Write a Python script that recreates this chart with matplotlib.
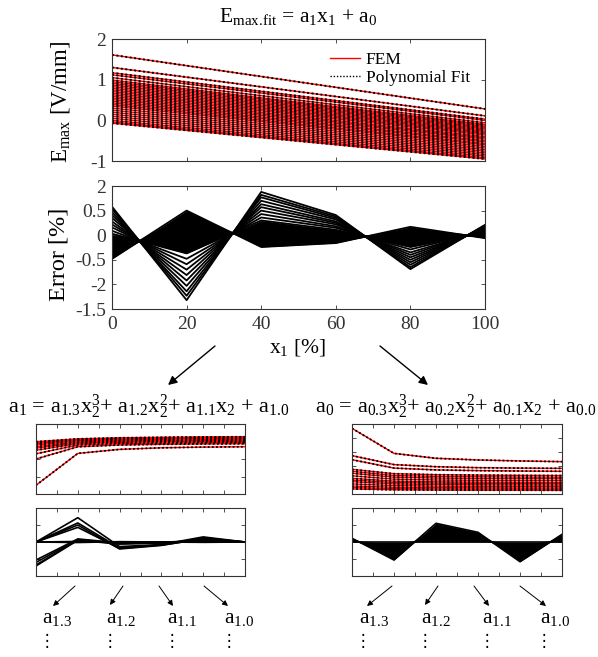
import matplotlib.pyplot as plt
from matplotlib.patches import FancyArrowPatch

plt.rcParams['font.family'] = ['Liberation Serif', 'DejaVu Sans']
plt.rcParams['mathtext.fontset'] = 'custom'
plt.rcParams['mathtext.rm'] = 'Liberation Serif'
plt.rcParams['mathtext.it'] = 'Liberation Serif:italic'
plt.rcParams['axes.unicode_minus'] = False
plt.rcParams['axes.linewidth'] = 0.8
plt.rcParams['axes.edgecolor'] = '0.2'

# --- data ---
x1 = [0, 20, 40, 60, 80, 100]

# E_max fit lines: value at x1 = 0 and x1 = 100
emax_start = [1.61, 1.30, 1.17, 1.12, 1.05, 0.99, 0.95, 0.91, 0.87, 0.83, 0.79,
              0.75, 0.71, 0.67, 0.63, 0.59, 0.55, 0.51, 0.47, 0.43, 0.39, 0.35,
              0.30, 0.25, 0.20, 0.15, 0.10, 0.05, 0.00, -0.04, -0.07]
emax_end = [0.28, 0.11, 0.03, 0.00, -0.06, -0.10, -0.12, -0.15, -0.18, -0.21, -0.24,
            -0.27, -0.30, -0.33, -0.36, -0.40, -0.43, -0.46, -0.50, -0.53, -0.57, -0.60,
            -0.64, -0.68, -0.72, -0.76, -0.80, -0.84, -0.88, -0.92, -0.95]

# error profiles at x1 (dense band first, then the spread ones)
err_dense = [
    [-0.48, 0.50, -0.24, -0.16, 0.17, -0.06],
    [-0.42, 0.39, -0.17, -0.13, 0.12, -0.04],
    [-0.35, 0.28, -0.11, -0.09, 0.07, -0.03],
    [-0.29, 0.17, -0.04, -0.06, 0.02, -0.01],
    [-0.23, 0.06, 0.03, -0.02, -0.04, 0.00],
    [-0.16, -0.05, 0.10, 0.01, -0.09, 0.02],
    [-0.10, -0.16, 0.16, 0.05, -0.14, 0.04],
    [-0.03, -0.26, 0.23, 0.08, -0.19, 0.05],
    [0.03, -0.37, 0.30, 0.11, -0.24, 0.07],
]
err_spread = [
    [0.09, -0.48, 0.36, 0.15, -0.29, 0.09],
    [0.16, -0.59, 0.43, 0.18, -0.35, 0.10],
    [0.22, -0.70, 0.50, 0.22, -0.40, 0.12],
    [0.28, -0.81, 0.57, 0.25, -0.45, 0.13],
    [0.35, -0.92, 0.63, 0.28, -0.50, 0.15],
    [0.41, -1.03, 0.70, 0.32, -0.55, 0.17],
    [0.47, -1.14, 0.77, 0.35, -0.60, 0.18],
    [0.53, -1.23, 0.82, 0.38, -0.65, 0.20],
    [0.58, -1.32, 0.88, 0.41, -0.69, 0.21],
]
err_yticks = [-1.5, -1, -0.5, 0, 0.5, 1]
err_yticklabels = ['-1.5', '-2', '-0.5', '0', '0.5', '2']

x2 = [0, 20, 40, 60, 80, 100]
a1_curves = [
    [0.50, 2.32, 2.55, 2.64, 2.68, 2.70],
    [2.00, 2.70, 2.80, 2.84, 2.86, 2.87],
    [2.30, 2.80, 2.88, 2.91, 2.93, 2.94],
    [2.50, 2.88, 2.95, 2.98, 3.00, 3.01],
    [2.62, 2.93, 3.00, 3.03, 3.05, 3.06],
    [2.70, 2.98, 3.05, 3.08, 3.10, 3.11],
    [2.80, 3.04, 3.10, 3.13, 3.15, 3.16],
    [2.88, 3.08, 3.14, 3.17, 3.19, 3.20],
    [2.94, 3.12, 3.18, 3.21, 3.23, 3.24],
    [2.99, 3.15, 3.21, 3.24, 3.26, 3.27],
]
a1_err = [
    [0.00, 1.43, -0.27, -0.15, 0.30, 0.00],
    [0.00, 1.12, -0.35, -0.17, 0.25, 0.00],
    [0.00, 1.00, -0.41, -0.20, 0.20, 0.00],
    [0.00, 0.86, -0.38, -0.18, 0.18, 0.00],
    [-1.06, 0.18, -0.05, -0.02, 0.10, 0.00],
    [-1.20, 0.15, -0.08, -0.03, 0.08, 0.00],
    [-1.35, 0.12, -0.10, -0.05, 0.06, 0.00],
    [-1.41, 0.10, -0.12, -0.06, 0.05, 0.00],
    [0.00, 0.03, -0.03, 0.00, 0.02, 0.00],
    [0.00, -0.03, 0.02, 0.00, -0.02, 0.00],
]
a0_curves = [
    [4.69, 2.90, 2.55, 2.43, 2.36, 2.31],
    [2.74, 2.10, 1.95, 1.88, 1.85, 1.83],
    [2.45, 1.85, 1.72, 1.67, 1.64, 1.62],
    [1.76, 1.45, 1.38, 1.35, 1.33, 1.32],
    [1.62, 1.32, 1.26, 1.23, 1.21, 1.20],
    [1.48, 1.20, 1.14, 1.11, 1.10, 1.09],
    [1.30, 1.06, 1.00, 0.98, 0.97, 0.96],
    [1.12, 0.92, 0.87, 0.85, 0.84, 0.83],
    [1.00, 0.82, 0.78, 0.76, 0.75, 0.74],
    [0.88, 0.72, 0.68, 0.66, 0.65, 0.64],
    [0.72, 0.60, 0.56, 0.55, 0.54, 0.53],
    [0.57, 0.48, 0.45, 0.44, 0.43, 0.43],
    [0.46, 0.38, 0.36, 0.35, 0.35, 0.34],
    [0.36, 0.30, 0.28, 0.27, 0.27, 0.26],
]
a0_err = [
    [0.00, 0.00, 0.00, 0.00, 0.00, 0.00],
    [0.05, -0.25, 0.27, 0.14, -0.28, 0.11],
    [0.11, -0.53, 0.55, 0.28, -0.58, 0.22],
    [0.16, -0.79, 0.82, 0.43, -0.87, 0.34],
    [0.22, -1.06, 1.10, 0.57, -1.16, 0.45],
]

W, H = 598, 657
fig = plt.figure(figsize=(W / 100, H / 100), dpi=100)


def box(x0, y0, x1_, y1_):
    # pixel box (top-left origin) -> figure fraction rect
    return [x0 / W, 1 - y1_ / H, (x1_ - x0) / W, (y1_ - y0) / H]


def fp(x, y):
    return (x / W, 1 - y / H)


def style(ax, labels=True):
    ax.tick_params(direction='in', top=True, right=True, length=3, width=0.6,
                   colors='0.2', labelsize=14, pad=4)
    if not labels:
        ax.tick_params(labelbottom=False, labelleft=False)


dotted = (0, (1, 1.3))

# top panel
ax1 = fig.add_axes(box(112, 39, 485, 161))
for i, (s, e) in enumerate(zip(emax_start, emax_end)):
    ax1.plot([0, 100], [s, e], color='red', lw=1.0, label='FEM' if i == 0 else None)
for i, (s, e) in enumerate(zip(emax_start, emax_end)):
    ax1.plot([0, 100], [s, e], color='black', lw=1.4, linestyle=dotted,
             label='Polynomial Fit' if i == 0 else None)
ax1.set_xlim(0, 100)
ax1.set_ylim(-1, 2)
ax1.set_xticks(x1)
ax1.set_yticks([-1, 0, 1, 2])
style(ax1)
ax1.tick_params(labelbottom=False)
leg = ax1.legend(loc='upper left', bbox_to_anchor=(0.585, 0.895), frameon=False, fontsize=12.5,
                 handlelength=1.7, handletextpad=0.35, labelspacing=0.1, borderpad=0,
                 borderaxespad=0)
leg.get_lines()[1].set_linewidth(1.0)

# error panel
ax2 = fig.add_axes(box(112, 186, 485, 309))
ax2.fill_between(x1, err_dense[0], err_dense[-1], color='black', lw=0)
for prof in err_dense + err_spread:
    ax2.plot(x1, prof, color='black', lw=1.3)
ax2.set_xlim(0, 100)
ax2.set_ylim(-1.5, 1)
ax2.set_xticks(x1)
ax2.set_yticks(err_yticks)
ax2.set_yticklabels(err_yticklabels)
style(ax2)
ax2.tick_params(axis='x', pad=5)

fig.text(*fp(298, 22), r'E$_\mathregular{max.\!fit}$ = a$_\mathregular{1}$x$_\mathregular{1}$ + a$_\mathregular{0}$',
         ha='center', va='baseline', fontsize=15.5)
fig.text(*fp(61, 102), r'E$_\mathregular{max}$ [V/mm]', rotation=90, ha='center', va='center',
         fontsize=16.5)
fig.text(*fp(59, 254), 'Error [%]', rotation=90, ha='center', va='center', fontsize=17.5)
fig.text(*fp(297, 352), r'x$_\mathregular{1}$ [%]', ha='center', va='baseline', fontsize=15.5)

# small panels
small_x = list(range(0, 101, 10))
axA = fig.add_axes(box(36, 424, 245, 494))
for c in a1_curves:
    axA.plot(x2, c, color='red', lw=1.0)
for c in a1_curves:
    axA.plot(x2, c, color='black', lw=1.3, linestyle=dotted)
axA.set_ylim(0, 4)
axA.set_yticks([0, 1, 2, 3, 4])

axB = fig.add_axes(box(36, 508, 245, 576))
for c in a1_err:
    axB.plot(x2, c, color='black', lw=1.2)
axB.set_ylim(-2, 2)
axB.set_yticks([-2, -1, 0, 1, 2])

axC = fig.add_axes(box(352, 424, 562, 494))
for c in a0_curves:
    axC.plot(x2, c, color='red', lw=1.0)
for c in a0_curves:
    axC.plot(x2, c, color='black', lw=1.3, linestyle=dotted)
axC.set_ylim(0, 5)
axC.set_yticks([0, 1, 2, 3, 4, 5])

axD = fig.add_axes(box(352, 508, 562, 576))
axD.fill_between(x2, a0_err[0], a0_err[-1], color='black', lw=0)
for c in a0_err:
    axD.plot(x2, c, color='black', lw=1.2)
axD.set_ylim(-2, 2)
axD.set_yticks([-2, -1, 0, 1, 2])

for ax in (axA, axB, axC, axD):
    ax.set_xlim(0, 100)
    ax.set_xticks(small_x)
    style(ax, labels=False)

fig.text(*fp(149, 413), r'a$_\mathregular{1}$ = a$_\mathregular{1.3}$x$_\mathregular{2}^\mathregular{3}$+ '
         r'a$_\mathregular{1.2}$x$_\mathregular{2}^\mathregular{2}$+ a$_\mathregular{1.1}$x$_\mathregular{2}$ + '
         r'a$_\mathregular{1.0}$', ha='center', va='baseline', fontsize=16)
fig.text(*fp(456, 413), r'a$_\mathregular{0}$ = a$_\mathregular{0.3}$x$_\mathregular{2}^\mathregular{3}$+ '
         r'a$_\mathregular{0.2}$x$_\mathregular{2}^\mathregular{2}$+ a$_\mathregular{0.1}$x$_\mathregular{2}$ + '
         r'a$_\mathregular{0.0}$', ha='center', va='baseline', fontsize=16)

# arrows
big_arrows = [((215, 346), (168, 385)), ((380, 346), (428, 385))]
for a, b in big_arrows:
    fig.add_artist(FancyArrowPatch(fp(*a), fp(*b), transform=fig.transFigure, arrowstyle='-|>',
                                   mutation_scale=13, lw=1.0, color='black', shrinkA=0, shrinkB=0))
small_arrows = [((75, 586), (53, 606)), ((123, 586), (110, 605)), ((159, 586), (173, 606)),
                ((204, 586), (228, 606)), ((392, 586), (367, 606)), ((438, 586), (425, 605)),
                ((474, 586), (489, 606)), ((520, 586), (546, 606))]
for a, b in small_arrows:
    fig.add_artist(FancyArrowPatch(fp(*a), fp(*b), transform=fig.transFigure, arrowstyle='-|>',
                                   mutation_scale=8, lw=0.7, color='black', shrinkA=0, shrinkB=0))

coef_labels = ['1.3', '1.2', '1.1', '1.0', '1.3', '1.2', '1.1', '1.0']
label_x = [42, 106, 167, 224, 359, 421, 482, 540]
dots_x = [47, 110, 172, 229, 363, 425, 487, 544]
for lab, lx, dx in zip(coef_labels, label_x, dots_x):
    fig.text(*fp(lx, 623), r'a$_\mathregular{%s}$' % lab, ha='left', va='baseline', fontsize=15.5)
    fig.text(*fp(dx, 641), '\u22ee', ha='center', va='center', fontsize=12,
             family=['DejaVu Sans'])

fig.savefig('out.png', dpi=100)
